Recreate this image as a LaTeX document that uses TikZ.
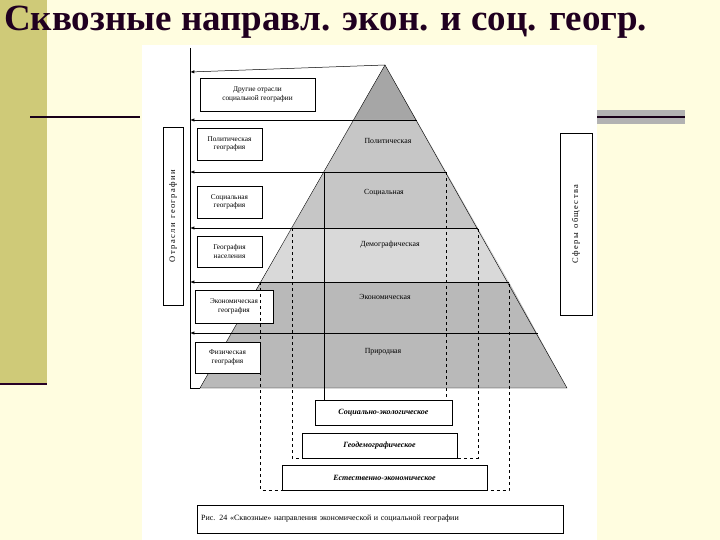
\documentclass[tikz,border=0pt]{standalone}
\usepackage{fontspec}
\setmainfont{Liberation Serif}
\begin{document}
\begin{tikzpicture}[x=1pt,y=-1pt,
  lbl/.style={draw,fill=white,align=center,font=\fontsize{7.3}{8.5}\selectfont,inner sep=1pt},
  band/.style={font=\fontsize{7.8}{9}\selectfont},
  arr/.style={-latex,line width=0.5pt},
  dsh/.style={dashed,line width=0.4pt},
  bot/.style={draw,fill=white,font=\fontsize{8}{9}\selectfont\itshape\bfseries}]
\fill[yellow!12] (0,0) rectangle (720,540);
\useasboundingbox (0,0) rectangle (720,540);
\fill[olive!35!yellow!60!gray!70] (0,0) rectangle (47,385);
\draw[line width=2pt,black!70!violet] (0,384) -- (47,384);
\draw[line width=1.5pt,black!80!violet] (30,117) -- (140,117);
\fill[gray!60] (595,110) rectangle (685,124);
\draw[line width=1.5pt,black!80!violet] (595,117) -- (685,117);
\node[anchor=west,font=\bfseries\fontsize{37}{38}\selectfont,text=black!75!violet,inner sep=0pt] (title) at (4,22) {Сквозные направл. экон. и соц. геогр.};
\fill[white] (142,45) rectangle (597,540);
% pyramid bands
\coordinate (apex) at (385,65);
\fill[gray!70] (385,65) -- (353.5,120) -- (416.5,120) -- cycle;
\fill[gray!45] (353.5,120) -- (292,228) -- (478,228) -- (416.5,120) -- cycle;
\fill[gray!30] (292,228) -- (260.5,282) -- (509,282) -- (478,228) -- cycle;
\fill[gray!55] (260.5,282) -- (200,388) -- (567,388) -- (509,282) -- cycle;
\draw (200,388) -- (apex) -- (567,388) -- cycle;
\foreach \y/\xl/\xr in {120/353.5/416.5,172/324/446,228/292/478,282/260.5/509,333/231.5/538}
  \draw (\xl,\y) -- (\xr,\y);
% arrows to left
\draw (190,48) -- (190,388);
\draw[arr] (apex) -- (190,72);
\draw[arr] (353.5,120) -- (190,120);
\draw[arr] (324,172) -- (190,172);
\draw[arr] (292,228) -- (190,228);
\draw[arr] (260.5,282) -- (190,282);
\draw[arr] (231.5,333) -- (190,333);
\draw (200,388) -- (190,388);
% band labels
\node[band] (b1) at (388,141) {Политическая};
\node[band] (b2) at (384,193) {Социальная};
\node[band] (b3) at (390,245) {Демографическая};
\node[band] (b4) at (385,297) {Экономическая};
\node[band] (b5) at (383,352) {Природная};
% left boxes
\node[lbl,minimum width=115,minimum height=33] (o1) at (257.5,94.5) {Другие отрасли\\социальной географии};
\node[lbl,minimum width=65,minimum height=32] (o2) at (229.5,144) {Политическая\\география};
\node[lbl,minimum width=65,minimum height=32] (o3) at (229.5,202) {Социальная\\география};
\node[lbl,minimum width=65,minimum height=31] (o4) at (229.5,251.5) {География\\населения};
\node[lbl,minimum width=78,minimum height=33] (o5) at (234,306.5) {Экономическая\\география};
\node[lbl,minimum width=65,minimum height=31] (o6) at (227.5,357.5) {Физическая\\география};
% side boxes
\node[draw,fill=white,rotate=90,minimum width=178,minimum height=20,font=\fontsize{8.5}{9}\selectfont,inner sep=1pt] (side1) at (173,216) {О\,т\,р\,а\,с\,л\,и\ \ г\,е\,о\,г\,р\,а\,ф\,и\,и};
\node[draw,fill=white,rotate=90,minimum width=182,minimum height=32,font=\fontsize{8.5}{9}\selectfont,inner sep=1pt] (side2) at (576,224) {С\,ф\,е\,р\,ы\ \ о\,б\,щ\,е\,с\,т\,в\,а};
% dashed verticals
\draw (324,172) -- (324,425);
\draw[dsh] (446,172) -- (446,425);
\draw[dsh] (292,228) -- (292,458) -- (478,458) -- (478,228);
\draw[dsh] (260.5,282) -- (260.5,490) -- (509,490) -- (509,282);
% bottom boxes
\node[bot,minimum width=137,minimum height=25] (s1) at (383.5,412.5) {Социально-экологическое};
\node[bot,minimum width=155,minimum height=25] (s2) at (379.5,445.5) {Геодемографическое};
\node[bot,minimum width=205,minimum height=25] (s3) at (384.5,477.5) {Естественно-экономическое};
% caption
\node[draw,minimum width=366,minimum height=28,font=\fontsize{8}{9}\selectfont,anchor=west,inner sep=3pt,text width=358] (cap) at (197,519) {Рис. 24 «Сквозные» направления экономической и социальной географии};
\end{tikzpicture}
\end{document}
